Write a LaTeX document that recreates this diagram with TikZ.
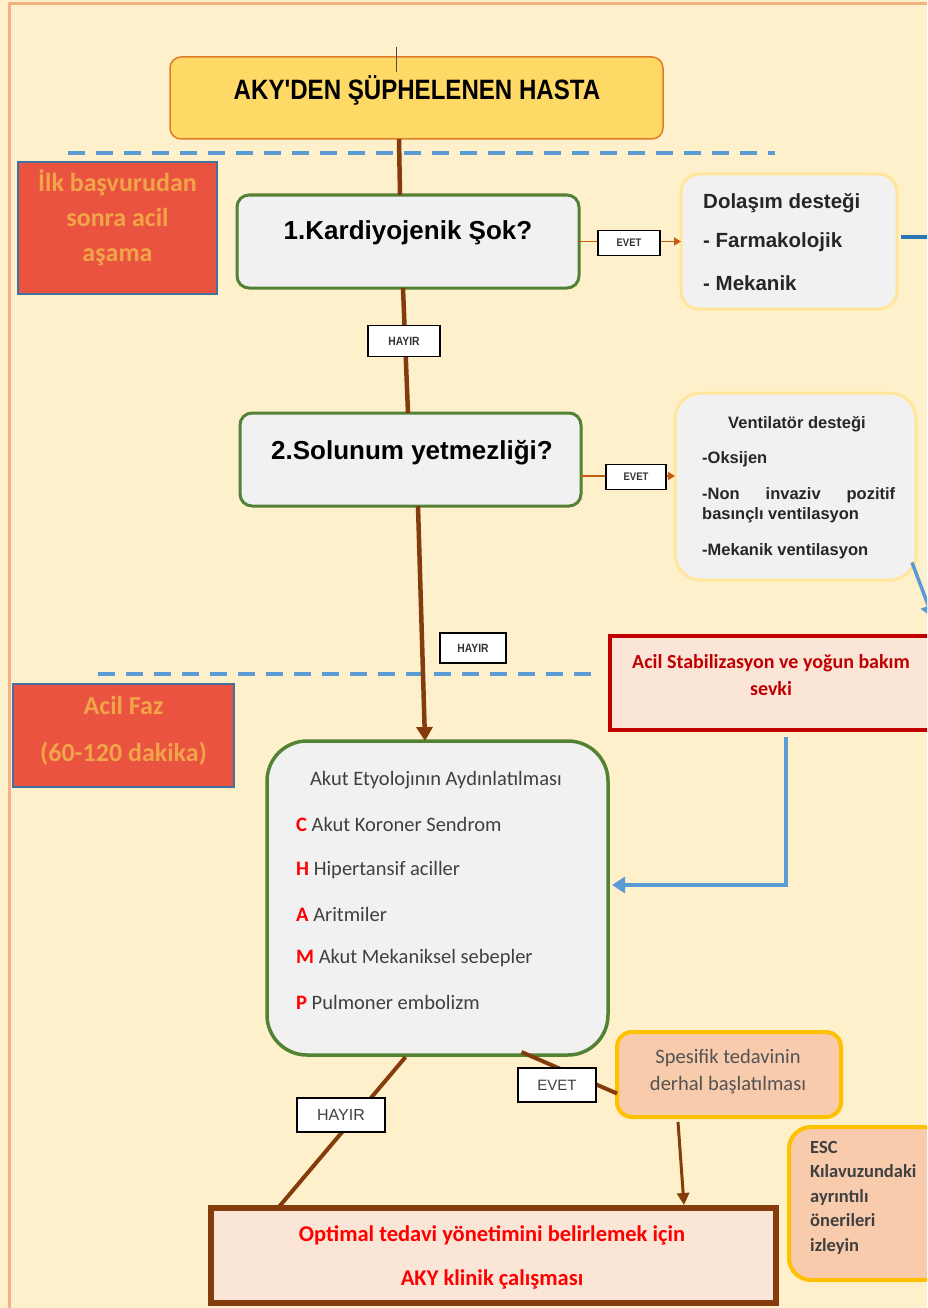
\documentclass[tikz,border=0pt]{standalone}
\usepackage{fontspec}
\setmainfont{Liberation Sans}
\newfontfamily\calfont{Carlito}
\newfontfamily\narrowfont[FakeStretch=0.86]{Liberation Sans}
\usetikzlibrary{arrows.meta,calc}
\definecolor{bgc}{HTML}{FFF0CC}
\definecolor{framec}{HTML}{F4B183}
\definecolor{titlefill}{HTML}{FFD966}
\definecolor{titledraw}{HTML}{E07B28}
\definecolor{greenc}{HTML}{548235}
\definecolor{grayfill}{HTML}{F1F1F1}
\definecolor{paleyel}{HTML}{FFE699}
\definecolor{phasefill}{HTML}{E9533F}
\definecolor{phasedraw}{HTML}{41719C}
\definecolor{phasetext}{HTML}{F2A448}
\definecolor{brownc}{HTML}{843C0C}
\definecolor{orangec}{HTML}{C55A11}
\definecolor{dashblue}{HTML}{5B9BD5}
\definecolor{darkblue}{HTML}{2E75B6}
\definecolor{pinkfill}{HTML}{FBE5D6}
\definecolor{darkred}{HTML}{C00000}
\definecolor{peach}{HTML}{F8CBAD}
\definecolor{goldc}{HTML}{FFC000}
\definecolor{txtgray}{HTML}{404040}
\newcommand{\fsz}[2]{\fontsize{#1}{#2}\selectfont}
\begin{document}
\begin{tikzpicture}[x=1pt,y=-1pt,
  shapebox/.style={inner sep=0pt, outer sep=0pt},
  qbox/.style={shapebox, draw=greenc, fill=grayfill, line width=3pt, rounded corners=12pt, minimum width=341pt, minimum height=93pt},
  infobox/.style={shapebox, draw=paleyel, fill=grayfill, line width=3pt},
  phasebox/.style={shapebox, draw=phasedraw, fill=phasefill, line width=1.2pt},
  phasetxt/.style={text=phasetext, font=\calfont\bfseries\fsz{26}{30}, align=center},
  lbl/.style={draw=black, fill=white, line width=1.6pt, inner sep=0pt, font=\narrowfont\bfseries\fsz{12}{13}, text=black!80},
  brownline/.style={draw=brownc, line width=4.5pt},
  brownarrow/.style={brownline, -{Triangle[width=16pt,length=14pt]}},
  orangearrow/.style={draw=orangec, line width=1.8pt, -{Triangle[width=8pt,length=7pt]}},
  bluedash/.style={draw=dashblue, line width=4pt, dash pattern=on 17pt off 11pt},
  bluearrow/.style={draw=dashblue, line width=4.5pt, -{Triangle[width=16pt,length=13pt]}},
  peachbox/.style={shapebox, draw=goldc, fill=peach, line width=4pt},
  bodytxt/.style={font=\bfseries\fsz{20.5}{24}, text=black!85, anchor=west, inner sep=0pt},
  venttxt/.style={font=\bfseries\fsz{16.5}{20}, text=black!85},
  akuttxt/.style={font=\calfont\fsz{20.5}{24}, text=txtgray, anchor=west, inner sep=0pt}
]
\clip (0,0) rectangle (927,1308);
\fill[bgc] (0,0) rectangle (927,1308);
\draw[framec, line width=3pt] (9,4) rectangle (980,1360);

% dashed separators
\draw[bluedash] (68,153) -- (775,153);
\draw[bluedash] (98,674) -- (600,674);

% phase boxes
\node[phasebox, minimum width=199pt, minimum height=132pt] (phase1) at (117.5,228) {};
\node[phasetxt, font=\calfont\bfseries\fsz{26}{35}] (phase1t) at (117.5,218) {İlk başvurudan\\sonra acil\\aşama};
\node[phasebox, minimum width=221pt, minimum height=103pt] (phase2) at (123.5,735.5) {};
\node[phasetxt, font=\calfont\bfseries\fsz{26}{47}] (phase2t) at (123.5,731) {Acil Faz\\(60-120 dakika)};

% title
\node[shapebox, draw=titledraw, fill=titlefill, line width=1.5pt, rounded corners=11pt, minimum width=493pt, minimum height=82pt] (title) at (416.5,98) {};
\node[font=\narrowfont\bfseries\fsz{28}{32}] (titlet) at (417,90) {AKY'DEN ŞÜPHELENEN HASTA};
\coordinate (tickA) at (396,47);
\coordinate (tickB) at (396,72);
\draw[black!70, line width=0.8pt] (tickA) -- (tickB);

% question boxes
\node[qbox, minimum width=342pt] (q1) at (408,241.5) {};
\node[font=\bfseries\fsz{26}{30}] (q1t) at (408,233) {1.Kardiyojenik Şok?};
\node[qbox] (q2) at (410.5,459.5) {};
\node[font=\bfseries\fsz{26}{30}] (q2t) at (412,453) {2.Solunum yetmezliği?};

% info boxes
\node[infobox, rounded corners=18pt, minimum width=216pt, minimum height=135pt] (dol) at (789,241.5) {};
\node[bodytxt] (dol1) at (703,203) {Dolaşım desteği};
\node[bodytxt] (dol2) at (703,242) {- Farmakolojik};
\node[bodytxt] (dol3) at (703,283) {- Mekanik};

\node[infobox, rounded corners=26pt, minimum width=241pt, minimum height=187pt] (vent) at (795.5,486.5) {};
\node[venttxt] (vent1) at (797,424) {Ventilatör desteği};
\node[venttxt, anchor=west, inner sep=0pt] (vent2) at (702,459) {-Oksijen};
\node[venttxt, font=\bfseries\fsz{16.5}{20}, anchor=west, inner sep=0pt, align=left] (vent3) at (702,505) {\makebox[193pt][s]{-Non\hfill invaziv\hfill pozitif}\\basınçlı ventilasyon};
\node[venttxt, anchor=west, inner sep=0pt] (vent4) at (702,551) {-Mekanik ventilasyon};

% acil stabilizasyon
\node[shapebox, draw=darkred, fill=pinkfill, line width=4pt, minimum width=340pt, minimum height=94pt] (acil) at (780,683) {};
\node[font=\calfont\bfseries\fsz{20}{27}, text=darkred, align=center] (acilt) at (771,675) {Acil Stabilizasyon ve yoğun bakım\\sevki};

% akut etyoloji
\node[qbox, rounded corners=40pt, line width=3.5pt, minimum width=341pt, minimum height=314pt] (akut) at (437.5,898) {};
\node[font=\calfont\fsz{20.5}{24}, text=txtgray] (akut0) at (436,780) {Akut Etyolojının Aydınlatılması};
\node[akuttxt] (akutC) at (296,824) {\textcolor{red}{\bfseries C} Akut Koroner Sendrom};
\node[akuttxt] (akutH) at (296,870) {\textcolor{red}{\bfseries H} Hipertansif aciller};
\node[akuttxt] (akutA) at (296,914) {\textcolor{red}{\bfseries A} Aritmiler};
\node[akuttxt] (akutM) at (296,958) {\textcolor{red}{\bfseries M} Akut Mekaniksel sebepler};
\node[akuttxt] (akutP) at (296,1002) {\textcolor{red}{\bfseries P} Pulmoner embolizm};

% spesifik
\node[peachbox, rounded corners=15pt, minimum width=224pt, minimum height=85pt] (spes) at (729,1074.5) {};
\node[font=\calfont\fsz{20.5}{27}, text=txtgray!90, align=center] (spest) at (728,1072) {Spesifik tedavinin\\derhal başlatılması};

% ESC
\node[peachbox, rounded corners=22pt, minimum width=156pt, minimum height=153pt] (esc) at (867,1203.5) {};
\node[font=\calfont\bfseries\fsz{18.5}{24.5}, text=txtgray, anchor=north west, inner sep=0pt, align=left] (esct) at (810,1141) {ESC\\Kılavuzundaki\\ayrıntılı\\önerileri\\izleyin};

% optimal
\node[shapebox, draw=brownc, fill=pinkfill, line width=6pt, minimum width=565pt, minimum height=95pt] (opt) at (493.5,1255.5) {};
\node[font=\calfont\bfseries\fsz{22.5}{44}, text=red, align=center] (optt) at (492,1257) {Optimal tedavi yönetimini belirlemek için\\AKY klinik çalışması};

% connectors
\draw[brownline] ($(title.south)+(-17.5,0)$) -- ($(q1.north)+(-8,0)$);
\draw[brownline] ($(q1.south)+(-5,0)$) -- ($(q2.north)+(-2.5,0)$);
\node[lbl, minimum width=72pt, minimum height=31pt] (hayir1) at (404,341) {HAYIR};
\draw[brownarrow] ($(q2.south)+(7.5,0)$) -- ($(akut.north)+(-12.5,0)$);
\node[lbl, minimum width=66pt, minimum height=30pt] (hayir2) at (473,648) {HAYIR};

\draw[orangearrow] (q1.east) -- (dol.west);
\node[lbl, font=\narrowfont\bfseries\fsz{11}{12}, minimum width=62pt, minimum height=25pt] (evet1) at (629,243) {EVET};
\draw[orangearrow] ($(q2.east)+(0,16.5)$) -- ($(vent.west)+(0,-10.5)$);
\node[lbl, font=\narrowfont\bfseries\fsz{11}{12}, minimum width=60pt, minimum height=25pt] (evet2) at (636,477) {EVET};

\coordinate (offR) at (945,237);
\draw[draw=darkblue, line width=4pt] ($(dol.east)+(4,-4.5)$) -- (offR);
\coordinate (offV) at (933,618);
\draw[bluearrow, line width=3.5pt] ($(vent.east)+(-4,76)$) -- (offV);

\draw[bluearrow] ($(acil.south)+(6,7)$) |- ($(akut.east)+(4,-13)$);

\draw[brownline, line width=4pt] ($(akut.south)+(-32,2)$) -- ($(opt.north)+(-215.5,0)$);
\node[lbl, font=\fsz{16}{18}, text=black!75, minimum width=88pt, minimum height=34pt] (hayir3) at (341,1115) {HAYIR};
\draw[brownline, line width=4pt] ($(akut.south)+(84,-3)$) -- ($(spes.west)+(0,19)$);
\node[lbl, font=\fsz{15}{17}, text=black!75, minimum width=78pt, minimum height=34pt] (evet3) at (557,1085) {EVET};
\draw[brownline, line width=3pt, -{Triangle[width=12pt,length=12pt]}] ($(spes.south)+(-51,5)$) -- ($(opt.north)+(190.5,-3)$);
\end{tikzpicture}
\end{document}
